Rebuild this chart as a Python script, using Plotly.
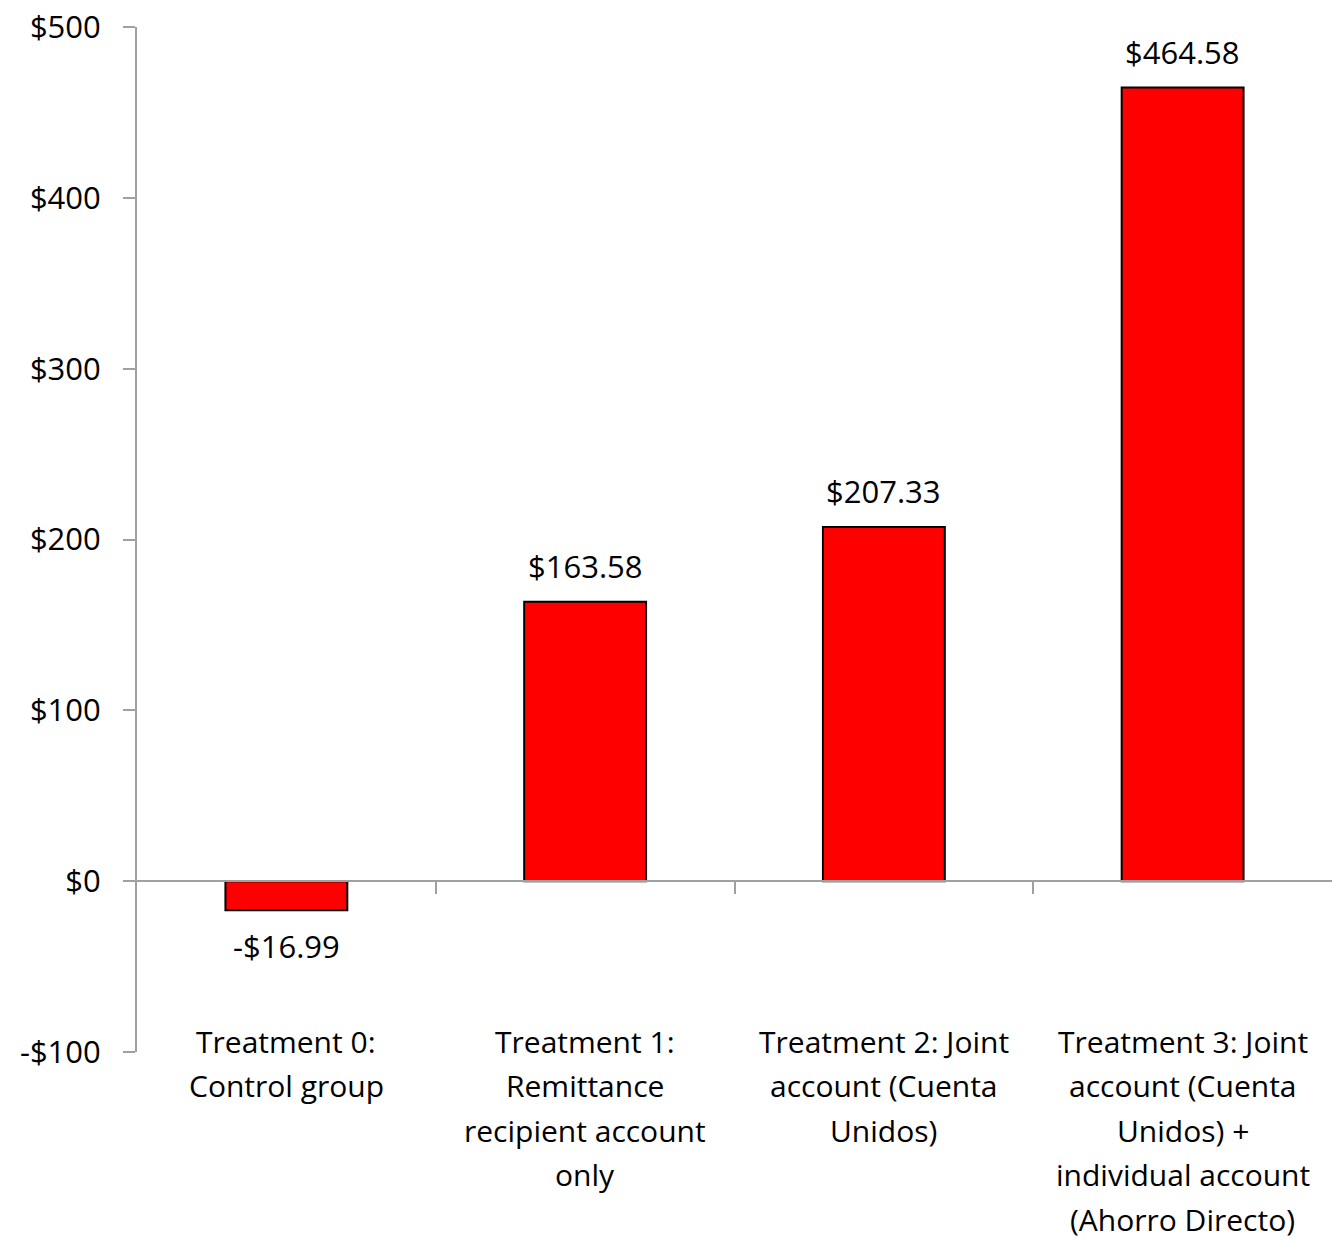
import plotly.graph_objects as go

# Category labels (line breaks as drawn under each bar)
categories = [
    "Treatment 0:<br>Control group",
    "Treatment 1:<br>Remittance<br>recipient account<br>only",
    "Treatment 2: Joint<br>account (Cuenta<br>Unidos)",
    "Treatment 3: Joint<br>account (Cuenta<br>Unidos) +<br>individual account<br>(Ahorro Directo)",
]
values = [-16.99, 163.58, 207.33, 464.58]
value_labels = ["-$16.99", "$163.58", "$207.33", "$464.58"]

y_tickvals = [-100, 0, 100, 200, 300, 400, 500]
y_ticktext = ["-$100", "$0", "$100", "$200", "$300", "$400", "$500"]

FONT = "Open Sans, Carlito, Calibri, sans-serif"
FS = 31
CAT_FS = 30
AXIS_GRAY = "#A0A0A0"
LINE_STEP = 44.5

x_idx = list(range(len(categories)))

fig = go.Figure()
fig.add_trace(go.Bar(
    x=x_idx,
    y=values,
    width=0.408,
    marker=dict(color="#FF0000", line=dict(color="#000000", width=2)),
    hoverinfo="skip",
))

annotations = []
# Data labels above positive bars, below negative ones
for xi, v, lab in zip(x_idx, values, value_labels):
    annotations.append(dict(
        x=xi, y=v, xref="x", yref="y", text=lab, showarrow=False,
        yanchor="bottom" if v >= 0 else "top",
        yshift=13 if v >= 0 else -13,
        font=dict(family=FONT, size=FS, color="black"),
    ))

# Category labels, one annotation per line for Excel-like line spacing
for xi, cat in zip(x_idx, categories):
    for j, line in enumerate(cat.split("<br>")):
        annotations.append(dict(
            x=xi, y=-100, xref="x", yref="y", text=line, showarrow=False,
            xanchor="center", yanchor="middle",
            yshift=11 - j * LINE_STEP,
            font=dict(family=FONT, size=CAT_FS, color="black"),
        ))

fig.update_layout(
    width=1332, height=1241,
    margin=dict(l=137, r=0, t=27, b=189),
    paper_bgcolor="white", plot_bgcolor="white",
    showlegend=False,
    font=dict(family=FONT, size=FS, color="black"),
    xaxis=dict(
        range=[-0.5, 3.5], showline=False, showgrid=False, zeroline=False,
        showticklabels=False, ticks="",
    ),
    # horizontal axis line at $0 with ticks between categories
    xaxis2=dict(
        overlaying="x", anchor="free", position=1 / 6,
        range=[-0.5, 3.5], tickvals=[0.5, 1.5, 2.5],
        ticks="outside", ticklen=12, tickwidth=2, tickcolor=AXIS_GRAY,
        showline=True, linecolor=AXIS_GRAY, linewidth=2,
        showticklabels=False, showgrid=False, zeroline=False,
    ),
    yaxis=dict(
        range=[-100, 500], tickvals=y_tickvals, ticktext=y_ticktext,
        ticks="outside", ticklen=12, tickwidth=2, tickcolor=AXIS_GRAY,
        showline=True, linecolor=AXIS_GRAY, linewidth=2,
        showgrid=False, zeroline=False, ticklabelstandoff=16,
        tickfont=dict(family=FONT, size=FS, color="black"),
    ),
    annotations=annotations,
)
# keep the $0 axis attached even with no data of its own
fig.add_trace(go.Scatter(x=[0], y=[0], xaxis="x2", mode="markers",
                         marker=dict(opacity=0), hoverinfo="skip"))

fig.write_html("out.html")
